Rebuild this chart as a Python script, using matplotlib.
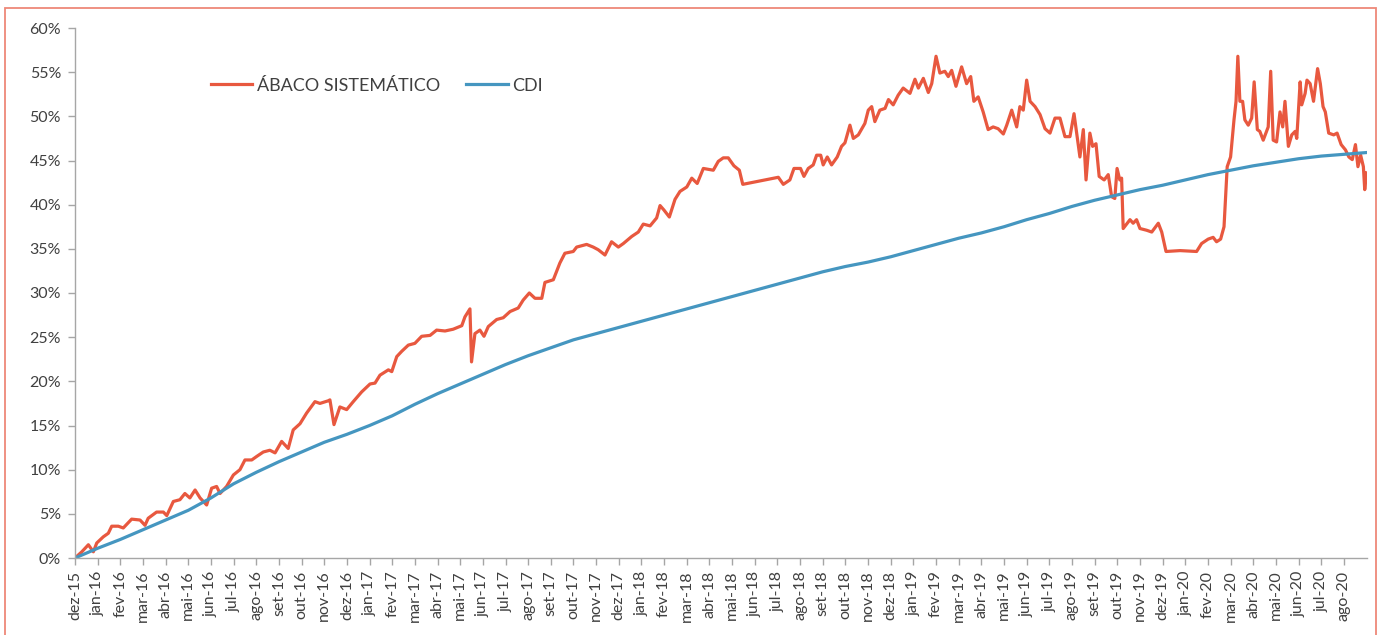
import matplotlib
matplotlib.use('Agg')
import matplotlib.pyplot as plt
import matplotlib.patches as mpatches
import numpy as np

plt.rcParams['font.family'] = ['Lato', 'DejaVu Sans']

### month labels on the x axis (one tick per month)
month_names = ['jan', 'fev', 'mar', 'abr', 'mai', 'jun',
               'jul', 'ago', 'set', 'out', 'nov', 'dez']
tick_labels = ['dez-15'] + ['{0}-{1}'.format(m, y) for y in range(16, 21)
                            for m in month_names][:56]

### CDI, read at each month tick (months since dez-15, % accumulated)
cdi_month = list(range(0, 58))
cdi_value = [0.0, 1.1, 2.1, 3.2, 4.3, 5.4, 6.8, 8.4, 9.7, 10.9,
             12.0, 13.1, 14.0, 15.0, 16.1, 17.4, 18.6, 19.7, 20.8, 21.9,
             22.9, 23.8, 24.7, 25.4, 26.1, 26.8, 27.5, 28.2, 28.9, 29.6,
             30.3, 31.0, 31.7, 32.4, 33.0, 33.5, 34.1, 34.8, 35.5, 36.2,
             36.8, 37.5, 38.3, 39.0, 39.8, 40.5, 41.1, 41.7, 42.2, 42.8,
             43.4, 43.9, 44.4, 44.8, 45.2, 45.5, 45.7, 45.9]

### ABACO SISTEMATICO (month position, % accumulated)
abaco_month = [
    0.0, 0.3, 0.59, 0.81, 0.96, 1.25, 1.47, 1.62, 1.91, 2.13,
    2.5, 2.87, 3.09, 3.23, 3.6, 3.9, 4.05, 4.34, 4.63, 4.85,
    5.07, 5.3, 5.52, 5.81, 6.03, 6.25, 6.4, 6.69, 6.99, 7.28,
    7.5, 7.8, 8.02, 8.31, 8.6, 8.83, 9.12, 9.41, 9.63, 9.93,
    10.22, 10.59, 10.81, 11.18, 11.25, 11.43, 11.69, 11.99, 12.28, 12.65,
    13.02, 13.24, 13.46, 13.83, 13.98, 14.2, 14.42, 14.71, 15.0, 15.3,
    15.67, 15.96, 16.33, 16.69, 17.07, 17.21, 17.43, 17.5, 17.65, 17.87,
    18.05, 18.24, 18.61, 18.9, 19.2, 19.56, 19.78, 20.05, 20.3, 20.6,
    20.74, 21.11, 21.4, 21.62, 21.99, 22.14, 22.58, 22.87, 23.09, 23.39,
    23.68, 23.98, 24.2, 24.57, 24.86, 25.08, 25.38, 25.67, 25.82, 25.99,
    26.23, 26.48, 26.7, 27.0, 27.22, 27.46, 27.73, 27.95, 28.17, 28.39,
    28.61, 28.83, 29.08, 29.32, 29.47, 31.04, 31.26, 31.55, 31.73, 32.02,
    32.17, 32.36, 32.58, 32.73, 32.91, 33.02, 33.2, 33.39, 33.64, 33.83,
    33.98, 34.2, 34.35, 34.57, 34.86, 35.01, 35.16, 35.3, 35.52, 35.75,
    35.9, 36.11, 36.33, 36.55, 36.85, 37.07, 37.22, 37.44, 37.66, 37.81,
    38.0, 38.17, 38.39, 38.54, 38.69, 38.88, 39.13, 39.35, 39.53, 39.67,
    39.86, 40.08, 40.3, 40.52, 40.74, 40.97, 41.12, 41.34, 41.56, 41.7,
    41.85, 42.0, 42.15, 42.37, 42.59, 42.81, 43.03, 43.25, 43.47, 43.69,
    43.91, 44.09, 44.35, 44.5, 44.62, 44.79, 44.91, 45.06, 45.2, 45.42,
    45.6, 45.75, 45.89, 45.99, 46.11, 46.19, 46.26, 46.56, 46.7, 46.85,
    47.0, 47.3, 47.52, 47.81, 47.96, 48.15, 48.77, 49.5, 49.72, 50.01,
    50.23, 50.38, 50.56, 50.71, 50.85, 51.0, 51.15, 51.24, 51.32, 51.41,
    51.53, 51.63, 51.78, 51.93, 52.04, 52.18, 52.29, 52.44, 52.66, 52.77,
    52.88, 53.03, 53.18, 53.3, 53.4, 53.55, 53.7, 53.85, 53.92, 54.07,
    54.14, 54.29, 54.37, 54.51, 54.66, 54.84, 54.96, 55.08, 55.18, 55.33,
    55.55, 55.7, 55.88, 56.07, 56.22, 56.37, 56.51, 56.62, 56.74, 56.86,
    56.92, 57.0]
abaco_value = [
    0.0, 0.7, 1.5, 0.7, 1.7, 2.4, 2.8, 3.6, 3.6, 3.4,
    4.4, 4.3, 3.7, 4.5, 5.2, 5.2, 4.8, 6.4, 6.6, 7.3,
    6.8, 7.7, 6.8, 6.0, 7.9, 8.1, 7.3, 8.1, 9.4, 10.0,
    11.1, 11.1, 11.5, 12.0, 12.2, 11.9, 13.2, 12.4, 14.5, 15.2,
    16.4, 17.7, 17.5, 17.8, 17.9, 15.1, 17.1, 16.8, 17.7, 18.8,
    19.7, 19.8, 20.7, 21.3, 21.1, 22.8, 23.4, 24.1, 24.3, 25.1,
    25.2, 25.8, 25.7, 25.9, 26.3, 27.3, 28.2, 22.2, 25.4, 25.8,
    25.1, 26.2, 27.0, 27.2, 27.9, 28.3, 29.2, 30.0, 29.4, 29.4,
    31.2, 31.5, 33.4, 34.5, 34.7, 35.2, 35.5, 35.2, 34.9, 34.3,
    35.8, 35.2, 35.6, 36.4, 36.9, 37.8, 37.6, 38.5, 39.9, 39.4,
    38.6, 40.6, 41.5, 42.0, 43.0, 42.4, 44.1, 44.0, 43.9, 44.9,
    45.3, 45.3, 44.4, 43.9, 42.3, 43.1, 42.3, 42.8, 44.1, 44.1,
    43.2, 44.1, 44.5, 45.6, 45.6, 44.5, 45.4, 44.5, 45.4, 46.6,
    47.0, 49.0, 47.5, 47.9, 49.2, 50.7, 51.1, 49.4, 50.7, 50.9,
    51.9, 51.3, 52.4, 53.2, 52.6, 54.2, 53.2, 54.3, 52.7, 53.7,
    56.8, 54.9, 55.1, 54.5, 55.2, 53.4, 55.6, 53.7, 54.5, 51.7,
    52.2, 50.5, 48.5, 48.8, 48.6, 48.0, 49.0, 50.7, 48.8, 51.1,
    50.7, 54.1, 51.7, 51.1, 50.2, 48.6, 48.1, 49.8, 49.8, 47.7,
    47.7, 50.3, 45.4, 48.5, 42.8, 48.1, 46.6, 46.9, 43.2, 42.8,
    43.4, 40.9, 40.7, 44.1, 42.8, 43.0, 37.3, 38.3, 37.9, 38.3,
    37.3, 37.1, 36.9, 37.9, 36.9, 34.7, 34.8, 34.7, 35.6, 36.1,
    36.3, 35.8, 36.1, 37.5, 44.3, 45.4, 49.6, 51.7, 56.8, 51.7,
    51.7, 49.6, 49.0, 49.8, 53.9, 48.5, 48.3, 47.3, 48.8, 55.1,
    47.3, 47.1, 50.5, 48.8, 51.7, 46.6, 47.9, 48.3, 47.5, 53.9,
    51.3, 52.6, 54.1, 53.7, 51.7, 55.4, 53.7, 51.1, 50.5, 48.1,
    47.9, 48.1, 46.8, 46.2, 45.4, 45.1, 46.8, 44.3, 45.6, 44.3,
    41.7, 43.6]

ABACO_COLOR = '#e8583f'
CDI_COLOR = '#4596c0'
TEXT_COLOR = '#404040'
AXIS_COLOR = '#a6a6a6'

fig = plt.figure(figsize=(13.84, 6.35), dpi=100)
ax = fig.add_axes([75 / 1384, 77 / 635, 1292 / 1384, 530 / 635])

ax.plot(abaco_month, abaco_value, color=ABACO_COLOR, lw=2.3,
        label='ÁBACO SISTEMÁTICO', solid_joinstyle='round')
ax.plot(cdi_month, cdi_value, color=CDI_COLOR, lw=2.3, label='CDI')

### axes limits and ticks
ax.set_xlim(0, 57.02)
ax.set_ylim(0, 60)
ax.set_yticks(np.arange(0, 61, 5))
ax.set_yticklabels(['{0}%'.format(v) for v in range(0, 61, 5)])
ax.set_xticks(np.arange(len(tick_labels)))
ax.set_xticklabels(tick_labels, rotation=90)

for side in ['top', 'right']:
    ax.spines[side].set_visible(False)
for side in ['left', 'bottom']:
    ax.spines[side].set_color(AXIS_COLOR)
    ax.spines[side].set_linewidth(1.0)
ax.tick_params(axis='both', colors=AXIS_COLOR, length=5, width=1.0,
               labelcolor=TEXT_COLOR, labelsize=11.5)
ax.tick_params(axis='x', pad=4)
ax.tick_params(axis='y', pad=5)

### legend
ax.legend(loc='center left', bbox_to_anchor=(0.105, 0.891), ncol=2,
          frameon=False, fontsize=13, handlelength=2.3, handletextpad=0.25,
          columnspacing=1.45, borderpad=0, borderaxespad=0,
          labelcolor=TEXT_COLOR)

### border around the whole chart
border = mpatches.Rectangle((5, -10), 1371, 635 - 8 + 10, transform=None,
                            fill=False, edgecolor='#ee8878', lw=1.3)
fig.patches.append(border)

plt.savefig('out.png', dpi=100)
